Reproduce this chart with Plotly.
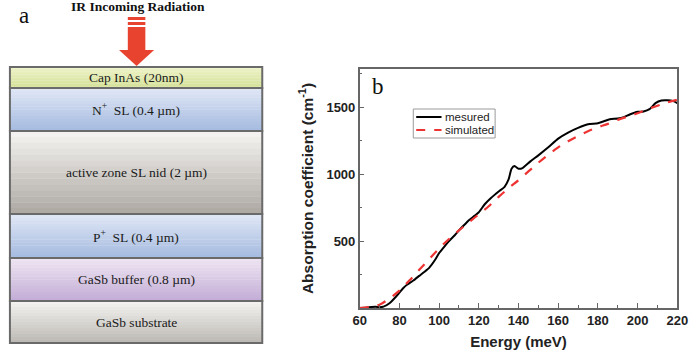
import plotly.graph_objects as go

# ---------------- data ----------------
meas_E = [60, 63, 66, 68, 70, 72, 75, 78, 80, 82, 84, 87, 90, 93, 95, 98, 100, 103, 105, 108,
          110, 113, 115, 118, 120, 123, 126, 130, 133, 135, 136.5, 138, 140, 142, 146, 150,
          155, 160, 165, 170, 175, 180, 183, 186, 190, 193, 196, 200, 203, 206, 209, 212,
          215, 218, 220]
meas_A = [0, 2, 8, 10, 6, 10, 35, 80, 115, 150, 175, 205, 240, 275, 300, 360, 410, 465, 500, 545,
          580, 625, 655, 690, 715, 775, 820, 870, 905, 960, 1040, 1060, 1040, 1045, 1095, 1140,
          1200, 1265, 1310, 1345, 1372, 1380, 1395, 1410, 1415, 1425, 1445, 1465, 1468, 1485,
          1530, 1550, 1552, 1545, 1530]
sim_E = [60, 65, 70, 75, 80, 85, 90, 95, 100, 105, 110, 115, 120, 125, 130, 135, 140, 145, 150,
         155, 160, 165, 170, 175, 180, 185, 190, 195, 200, 205, 210, 215, 220]
sim_A = [0, 8, 25, 72, 130, 205, 285, 365, 445, 515, 580, 640, 700, 760, 830, 895, 955, 1020,
         1085, 1145, 1200, 1245, 1285, 1320, 1350, 1375, 1405, 1430, 1455, 1485, 1510, 1535, 1555]
series_names = ["mesured", "simulated"]
x_ticks = [60, 80, 100, 120, 140, 160, 180, 200, 220]
y_ticks = [500, 1000, 1500]

layer_labels = ["Cap InAs (20nm)", "N<sup>+</sup>  SL (0.4 µm)", "active zone SL nid (2 µm)",
                "P<sup>+</sup>  SL (0.4 µm)", "GaSb buffer (0.8 µm)", "GaSb substrate"]

# ---------------- helpers ----------------
W, H = 700, 354
def X(px): return px / W
def Y(py): return 1 - py / H

def hex2rgb(h):
    h = h.lstrip('#'); return [int(h[i:i+2], 16) for i in (0, 2, 4)]

shapes = []
annotations = []

# layer stack (schematic, panel a)
bounds = [67, 88, 131, 214, 258, 301, 343]
grads = [("#eef3c8", "#d4e098"), ("#e0e7f5", "#a4badf"), ("#f6f5f3", "#aca7a1"),
         ("#e0e7f5", "#a4badf"), ("#efe5f2", "#c2acd6"), ("#f5f4f1", "#bbb8b3")]
xl, xr = 3, 262
N = 14
for i in range(6):
    t0, t1 = bounds[i], bounds[i + 1]
    c0, c1 = hex2rgb(grads[i][0]), hex2rgb(grads[i][1])
    for k in range(N):
        a = t0 + (t1 - t0) * k / N
        b = t0 + (t1 - t0) * (k + 1) / N
        f = (k + 0.5) / N
        c = [round(c0[j] + (c1[j] - c0[j]) * f) for j in range(3)]
        shapes.append(dict(type="rect", xref="paper", yref="paper", x0=X(xl), x1=X(xr),
                           y0=Y(b) - 0.001, y1=Y(a), line=dict(width=0),
                           fillcolor=f"rgb({c[0]},{c[1]},{c[2]})", layer="below"))
for i in range(6):
    shapes.append(dict(type="rect", xref="paper", yref="paper", x0=X(xl), x1=X(xr),
                       y0=Y(bounds[i + 1]), y1=Y(bounds[i]),
                       line=dict(color="#6a6a6a", width=2), fillcolor="rgba(0,0,0,0)", layer="below"))
    annotations.append(dict(xref="paper", yref="paper", x=X((xl + xr) / 2),
                            y=Y((bounds[i] + bounds[i + 1]) / 2), text=layer_labels[i],
                            showarrow=False, xanchor="center", yanchor="middle",
                            font=dict(family="Liberation Serif", size=13.5, color="#1a1a1a")))

# arrow
red = "#e8432f"
for (a, b) in [(17, 20), (22, 25), (27, 51)]:
    shapes.append(dict(type="rect", xref="paper", yref="paper", x0=X(124), x1=X(142),
                       y0=Y(b), y1=Y(a), line=dict(width=0), fillcolor=red))
shapes.append(dict(type="path", xref="paper", yref="paper",
                   path=f"M {X(115)} {Y(50)} L {X(151)} {Y(50)} L {X(133)} {Y(66)} Z",
                   line=dict(width=0), fillcolor=red))

annotations.append(dict(xref="paper", yref="paper", x=X(134), y=Y(7), text="IR Incoming Radiation",
                        showarrow=False, xanchor="center", yanchor="middle",
                        font=dict(family="Liberation Serif", size=13.5, color="#111111", weight="bold")))
annotations.append(dict(xref="paper", yref="paper", x=X(17), y=Y(15), text="a", showarrow=False,
                        xanchor="center", yanchor="middle",
                        font=dict(family="Liberation Serif", size=23, color="#111111")))
annotations.append(dict(xref="paper", yref="paper", x=X(381), y=Y(86), text="b", showarrow=False,
                        xanchor="center", yanchor="middle",
                        font=dict(family="Liberation Serif", size=23, color="#111111")))

# ---------------- chart (panel b) ----------------
line_styles = [dict(color="black", width=2.0, shape="spline", smoothing=0.6),
               dict(color="#ee3333", width=2.2, dash="dash", shape="spline")]
fig = go.Figure()
fig.add_trace(go.Scatter(x=meas_E, y=meas_A, mode="lines", name=series_names[0],
                         line=line_styles[0], showlegend=False))
fig.add_trace(go.Scatter(x=sim_E, y=sim_A, mode="lines", name=series_names[1],
                         line=line_styles[1], showlegend=False))

# legend box drawn in paper space
shapes.append(dict(type="rect", xref="paper", yref="paper", x0=X(417), x1=X(501),
                   y0=Y(138), y1=Y(109), line=dict(color="#9a9a9a", width=1), fillcolor="white"))
for i, yy in enumerate([117, 130]):
    ls = line_styles[i]
    shapes.append(dict(type="line", xref="paper", yref="paper", x0=X(420), x1=X(446),
                       y0=Y(yy), y1=Y(yy),
                       line=dict(color=ls["color"], width=2, dash=ls.get("dash", "solid"))))
    annotations.append(dict(xref="paper", yref="paper", x=X(448), y=Y(yy), text=series_names[i],
                            showarrow=False, xanchor="left", yanchor="middle",
                            font=dict(family="Liberation Sans", size=11.5, color="#222222")))

tick_font = dict(family="Liberation Sans", size=13, color="#222222", weight="bold")
axis_common = dict(showline=True, linecolor="#666666", linewidth=1.5, mirror=True,
                   ticks="inside", ticklen=5, tickcolor="#666666", tickwidth=1.2,
                   showgrid=False, zeroline=False, tickfont=tick_font)
fig.update_layout(
    width=W, height=H, margin=dict(l=0, r=0, t=0, b=0),
    paper_bgcolor="white", plot_bgcolor="white",
    xaxis=dict(domain=[X(362), X(688)], range=[60, 220], tickvals=x_ticks,
               minor=dict(ticks="inside", ticklen=3, dtick=10, tickcolor="#666666"),
               title=dict(text="Energy (meV)", standoff=9,
                          font=dict(family="Liberation Sans", size=15, color="#222222", weight="bold")),
               **axis_common),
    yaxis=dict(domain=[Y(308), Y(69)], range=[0, 1785], tickvals=y_ticks,
               minor=dict(ticks="inside", ticklen=3, tickvals=[250, 750, 1250, 1750], tickcolor="#666666"),
               title=dict(text="Absorption coefficient (cm<sup>-1</sup>)", standoff=9,
                          font=dict(family="Liberation Sans", size=15.5, color="#222222", weight="bold")),
               **axis_common),
    shapes=shapes, annotations=annotations, showlegend=False,
)
fig.write_html("out.html")
